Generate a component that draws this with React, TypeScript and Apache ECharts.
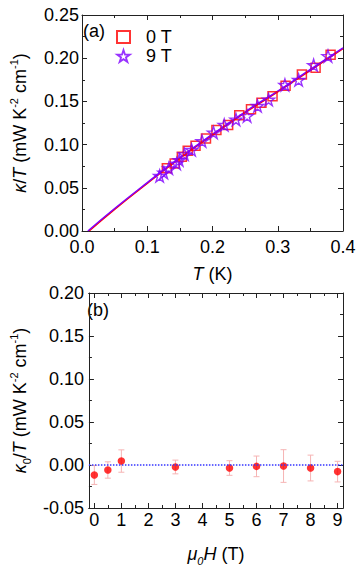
import React, { useEffect, useRef } from "react";
import * as echarts from "echarts";

// ---- Panel (a): kappa/T vs T ----
const T0: number[] = [0.130, 0.142, 0.153, 0.162, 0.174, 0.190, 0.206, 0.224, 0.241, 0.259, 0.275, 0.292, 0.312, 0.337, 0.358, 0.381];
const K0: number[] = [0.0726, 0.078, 0.086, 0.093, 0.0988, 0.107, 0.117, 0.1227, 0.134, 0.141, 0.1485, 0.156, 0.168, 0.181, 0.189, 0.204];
const T9: number[] = [0.119, 0.1254, 0.133, 0.145, 0.149, 0.157, 0.168, 0.184, 0.2015, 0.218, 0.236, 0.253, 0.269, 0.286, 0.311, 0.332, 0.355, 0.377, 0.4005];
const K9: number[] = [0.0637, 0.0675, 0.0726, 0.078, 0.082, 0.0888, 0.0938, 0.104, 0.114, 0.1227, 0.129, 0.133, 0.1447, 0.152, 0.169, 0.1748, 0.192, 0.2025, 0.210];
const fitT0: number[] = [0.011, 0.05, 0.1, 0.15, 0.2, 0.25, 0.3, 0.35, 0.4];
const fitK0: number[] = [0, 0.025, 0.055, 0.084, 0.111, 0.137, 0.161, 0.186, 0.211];
const fitT9: number[] = [0.009, 0.05, 0.1, 0.15, 0.2, 0.25, 0.3, 0.35, 0.4];
const fitK9: number[] = [0, 0.026, 0.056, 0.085, 0.112, 0.138, 0.162, 0.187, 0.212];

// ---- Panel (b): kappa0/T vs mu0H ----
const H: number[] = [0, 0.5, 1, 3, 5, 6, 7, 8, 9];
const K00: number[] = [-0.0116, -0.0058, 0.0046, -0.0023, -0.0035, -0.0016, -0.0012, -0.0035, -0.0077];
const ERR: number[] = [0.011, 0.0095, 0.013, 0.008, 0.0085, 0.012, 0.019, 0.015, 0.012];
const hMajor: number[] = [0, 1, 2, 3, 4, 5, 6, 7, 8, 9];
const hMinor: number[] = [0.5, 1.5, 2.5, 3.5, 4.5, 5.5, 6.5, 7.5, 8.5];
const REF_LEVEL: number[] = [0];

const FONT = "'Liberation Sans', Arial, sans-serif";
const STAR = "path://M50,0 L61.2,34.5 L97.6,34.5 L68.2,55.9 L79.4,90.5 L50,69.1 L20.6,90.5 L31.8,55.9 L2.4,34.5 L38.8,34.5 Z";
const RED = "#ff0000";
const PURPLE = "#8000ff";
const BLUE = "#3535ff";
const AX = "#222";

const zip = (a: number[], b: number[]) => a.map((v, i) => [v, b[i]]);

const richBase = {
  n: { fontSize: 18, fontFamily: FONT, color: "#000", lineHeight: 24 },
  i: { fontSize: 18, fontFamily: FONT, color: "#000", fontStyle: "italic", lineHeight: 24 },
  sup: { fontSize: 11, fontFamily: FONT, color: "#000", verticalAlign: "top" },
  sub: { fontSize: 11, fontFamily: FONT, color: "#000", verticalAlign: "bottom" },
  isub: { fontSize: 11, fontFamily: FONT, color: "#000", fontStyle: "italic", verticalAlign: "bottom" },
};

const axisCommon = {
  type: "value",
  splitLine: { show: false },
  axisLine: { show: true, onZero: false, lineStyle: { color: AX, width: 1 } },
  axisTick: { show: true, inside: true, length: 5, lineStyle: { color: AX } },
  minorTick: { show: true, splitNumber: 2, length: 3, lineStyle: { color: AX } },
  axisLabel: { color: "#000", fontSize: 18, fontFamily: FONT },
};

export default function App() {
  const ref = useRef<HTMLDivElement>(null);
  useEffect(() => {
    document.body.style.margin = "0";
    if (!ref.current) return;
    const chart = echarts.init(ref.current, undefined, { renderer: "svg" });
    const option: any = {
      animation: false,
      backgroundColor: "#fff",
      grid: [
        { left: 75, top: 15, width: 268, height: 216 },
        { left: 75, top: 293, width: 268, height: 215 },
      ],
      xAxis: [
        {
          ...axisCommon, gridIndex: 0, position: "bottom", min: 0, max: 0.4, interval: 0.1,
          axisLabel: { ...axisCommon.axisLabel, margin: 7, formatter: (v: number) => v.toFixed(1) },
          name: "{i|T}{n| (K)}", nameLocation: "middle", nameGap: 31,
          nameTextStyle: { rich: richBase },
        },
        {
          ...axisCommon, gridIndex: 0, position: "top", min: 0, max: 0.4, interval: 0.1,
          axisLabel: { show: false },
        },
        {
          ...axisCommon, gridIndex: 1, position: "bottom", min: -0.2, max: 9.2,
          minorTick: { show: false },
          axisTick: { ...axisCommon.axisTick, customValues: hMajor },
          axisLabel: { ...axisCommon.axisLabel, margin: 3, customValues: hMajor },
          name: "{i|μ}{isub|0}{i|H}{n| (T)}", nameLocation: "middle", nameGap: 34,
          nameTextStyle: { rich: richBase },
        },
        {
          ...axisCommon, gridIndex: 1, position: "bottom", min: -0.2, max: 9.2,
          minorTick: { show: false },
          axisTick: { ...axisCommon.axisTick, length: 3, customValues: hMinor },
          axisLabel: { show: false, customValues: hMinor },
        },
        {
          ...axisCommon, gridIndex: 1, position: "top", min: -0.2, max: 9.2,
          minorTick: { show: false },
          axisTick: { ...axisCommon.axisTick, customValues: hMajor },
          axisLabel: { show: false, customValues: hMajor },
        },
        {
          ...axisCommon, gridIndex: 1, position: "top", min: -0.2, max: 9.2,
          minorTick: { show: false },
          axisTick: { ...axisCommon.axisTick, length: 3, customValues: hMinor },
          axisLabel: { show: false, customValues: hMinor },
        },
      ],
      yAxis: [
        {
          ...axisCommon, gridIndex: 0, position: "left", min: 0, max: 0.25, interval: 0.05,
          axisLabel: { ...axisCommon.axisLabel, margin: 3, formatter: (v: number) => v.toFixed(2) },
          name: "{i|κ}{n|/}{i|T}{n| (mW K}{sup|-2}{n| cm}{sup|-1}{n|)}",
          nameLocation: "middle", nameGap: 50, nameRotate: 90,
          nameTextStyle: { rich: richBase },
        },
        {
          ...axisCommon, gridIndex: 0, position: "right", min: 0, max: 0.25, interval: 0.05,
          axisLabel: { show: false },
        },
        {
          ...axisCommon, gridIndex: 1, position: "left", min: -0.05, max: 0.2, interval: 0.05,
          axisLabel: { ...axisCommon.axisLabel, margin: 5, formatter: (v: number) => v.toFixed(2) },
          name: "{i|κ}{sub|0}{n|/}{i|T}{n| (mW K}{sup|-2}{n| cm}{sup|-1}{n|)}",
          nameLocation: "middle", nameGap: 50, nameRotate: 90,
          nameTextStyle: { rich: richBase },
        },
        {
          ...axisCommon, gridIndex: 1, position: "right", min: -0.05, max: 0.2, interval: 0.05,
          axisLabel: { show: false },
        },
      ],
      legend: {
        left: 111, top: 23, orient: "vertical", itemGap: 1, itemWidth: 13, itemHeight: 12,
        textStyle: { fontSize: 18, fontFamily: FONT, color: "#000", padding: [0, 0, 0, 11] },
        data: [
          { name: "0 T", icon: "rect", itemStyle: { color: "#fff", borderColor: RED, borderWidth: 2 } },
          { name: "9 T", icon: STAR, itemStyle: { color: "#fff", borderColor: PURPLE, borderWidth: 1.8 } },
        ],
      },
      graphic: [
        { type: "text", left: 83, top: 22, style: { text: "(a)", fontSize: 18, fontFamily: FONT, fill: "#000" } },
        { type: "text", left: 87, top: 301, style: { text: "(b)", fontSize: 18, fontFamily: FONT, fill: "#000" } },
      ],
      series: [
        {
          name: "fit0", type: "line", xAxisIndex: 0, yAxisIndex: 0, data: zip(fitT0, fitK0),
          smooth: true, showSymbol: false, lineStyle: { color: RED, width: 1.5 }, z: 2,
        },
        {
          name: "fit9", type: "line", xAxisIndex: 0, yAxisIndex: 0, data: zip(fitT9, fitK9),
          smooth: true, showSymbol: false, lineStyle: { color: PURPLE, width: 1.5 }, z: 2,
        },
        {
          name: "0 T", type: "scatter", xAxisIndex: 0, yAxisIndex: 0, data: zip(T0, K0),
          symbol: "rect", symbolSize: 9,
          itemStyle: { color: "rgba(255,255,255,0)", borderColor: RED, borderWidth: 1.5 }, z: 3,
        },
        {
          name: "9 T", type: "scatter", xAxisIndex: 0, yAxisIndex: 0, data: zip(T9, K9),
          symbol: STAR, symbolSize: 12,
          itemStyle: { color: "rgba(255,255,255,0)", borderColor: PURPLE, borderWidth: 1.4 }, z: 4,
        },
        {
          name: "zero", type: "line", xAxisIndex: 2, yAxisIndex: 2, data: [],
          itemStyle: { color: BLUE },
          markLine: {
            silent: true, symbol: ["none", "none"], label: { show: false },
            lineStyle: { color: BLUE, type: "dotted", width: 1.5, opacity: 1 },
            emphasis: { disabled: true },
            data: REF_LEVEL.map((v) => ({ yAxis: v })),
          },
          z: 1,
        },
        {
          name: "err", type: "custom", xAxisIndex: 2, yAxisIndex: 2,
          data: H.map((h, i) => [h, K00[i], ERR[i]]),
          encode: { x: 0, y: 1 },
          renderItem: (params: any, api: any) => {
            const x = api.value(0), y = api.value(1), e = api.value(2);
            const t = api.coord([x, y + e]);
            const b = api.coord([x, y - e]);
            const w = 3;
            const st = { stroke: "#f6b4b4", lineWidth: 1 };
            return {
              type: "group",
              children: [
                { type: "line", shape: { x1: t[0], y1: t[1], x2: b[0], y2: b[1] }, style: st },
                { type: "line", shape: { x1: t[0] - w, y1: t[1], x2: t[0] + w, y2: t[1] }, style: st },
                { type: "line", shape: { x1: b[0] - w, y1: b[1], x2: b[0] + w, y2: b[1] }, style: st },
              ],
            };
          },
          z: 2,
        },
        {
          name: "k0", type: "scatter", xAxisIndex: 2, yAxisIndex: 2, data: zip(H, K00),
          symbol: "circle", symbolSize: 7.5, itemStyle: { color: RED }, z: 4,
        },
      ],
    };
    chart.setOption(option);
    return () => chart.dispose();
  }, []);
  return <div ref={ref} style={{ width: 360, height: 569 }} />;
}
